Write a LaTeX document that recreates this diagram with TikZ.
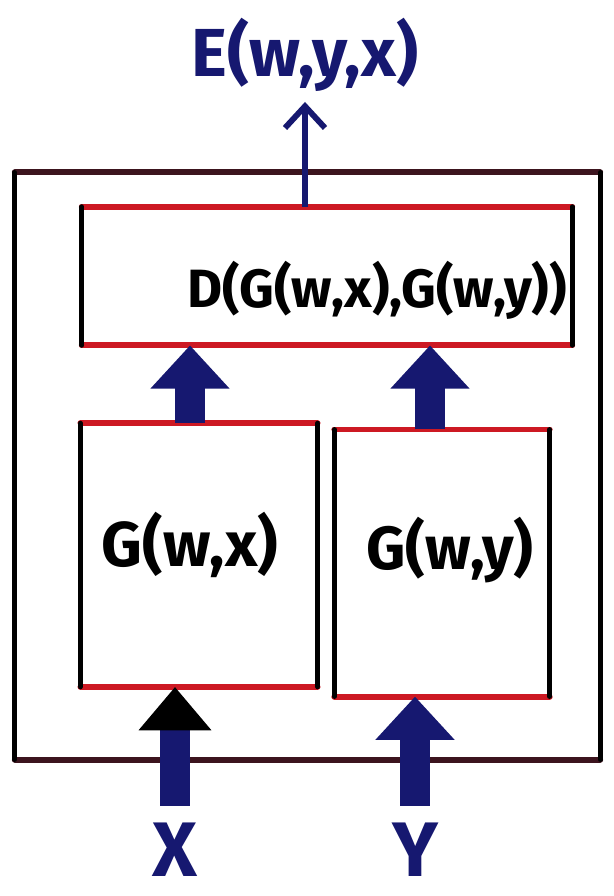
\documentclass[tikz,border=0pt]{standalone}
\usepackage{fontspec}
\setmainfont{Fira Sans}
\usetikzlibrary{arrows.meta,positioning}
\definecolor{inknavy}{RGB}{22,24,112}
\definecolor{inkred}{RGB}{205,25,35}
\definecolor{inkdark}{RGB}{60,20,30}

\begin{document}
\begin{tikzpicture}[x=0.03cm, y=-0.03cm,
        stage/.style={draw=none, minimum width=#1},
        hand/.style={inner sep=0pt, font=\fontsize{46}{50}\selectfont},
        bigarrow/.style={-{Triangle[width=2.3cm, length=1.3cm]}, line width=0.9cm, draw=inknavy},
        thinarrow/.style={-{Straight Barb[width=1.2cm, length=0.65cm]}, line width=5pt, draw=inknavy},
        redrim/.style={draw=inkred, line width=5pt, line cap=round},
        blackrim/.style={draw=black, line width=4pt, line cap=round}
      ]
      \useasboundingbox (0,0) rectangle (613,896);

      % outer box
      \node[stage=17.55cm, minimum height=17.6cm] (siamese) at (307.5,466) {};
      \draw[draw=inkdark, line width=5pt, line cap=round] (siamese.north west) -- (siamese.north east);
      \draw[draw=inkdark, line width=5pt, line cap=round] (siamese.south west) -- (siamese.south east);
      \draw[blackrim] (siamese.north west) -- (siamese.south west);
      \draw[blackrim] (siamese.north east) -- (siamese.south east);

      % inner boxes
      \node[stage=14.7cm, minimum height=4.15cm] (dist) at (327,276) {};
      \node[stage=7.1cm, minimum height=7.9cm] (gx) at (199,555) {};
      \node[stage=6.45cm, minimum height=8.0cm] (gy) at (442,563) {};
      \foreach \n in {dist,gx,gy} {
        \draw[redrim] (\n.north west) -- (\n.north east);
        \draw[redrim] (\n.south west) -- (\n.south east);
        \draw[blackrim] (\n.north west) -- (\n.south west);
        \draw[blackrim] (\n.north east) -- (\n.south east);
      }

      \node[hand] (distlabel) at (377,290) {\bfseries D(G(w,x),G(w,y))};
      \node[hand, font=\fontsize{54}{58}\selectfont] (gxlabel) at (190,545) {\bfseries G(w,x)};
      \node[hand, font=\fontsize{52}{56}\selectfont] (gylabel) at (450,550) {\bfseries G(w,y)};

      % outside labels
      \node[hand, text=inknavy, font=\fontsize{58}{62}\selectfont] (energy) at (305,55) {\bfseries E(w,y,x)};
      \node[hand, text=inknavy, font=\fontsize{66}{70}\selectfont, anchor=base] (xin) at (175,876) {\bfseries X};
      \node[hand, text=inknavy, font=\fontsize{66}{70}\selectfont, anchor=base] (yin) at (415,876) {\bfseries Y};

      % arrows
      \draw[thinarrow] ([xshift=-0.66cm]dist.north) -- ([xshift=-0.66cm, yshift=-0.3cm]dist.north |- energy.south);
      \draw[bigarrow] ([xshift=-0.27cm]gx.north) -- ([xshift=-0.27cm]gx.north |- dist.south);
      \draw[bigarrow] ([xshift=-0.36cm]gy.north) -- ([xshift=-0.36cm]gy.north |- dist.south);
      \draw[bigarrow, -{Triangle[width=2.1cm, length=1.3cm, color=black]}] ([yshift=0.5cm]xin.north) -- (xin.north |- gx.south);
      \draw[bigarrow] ([yshift=0.5cm]yin.north) -- (yin.north |- gy.south);
    \end{tikzpicture}
\end{document}
